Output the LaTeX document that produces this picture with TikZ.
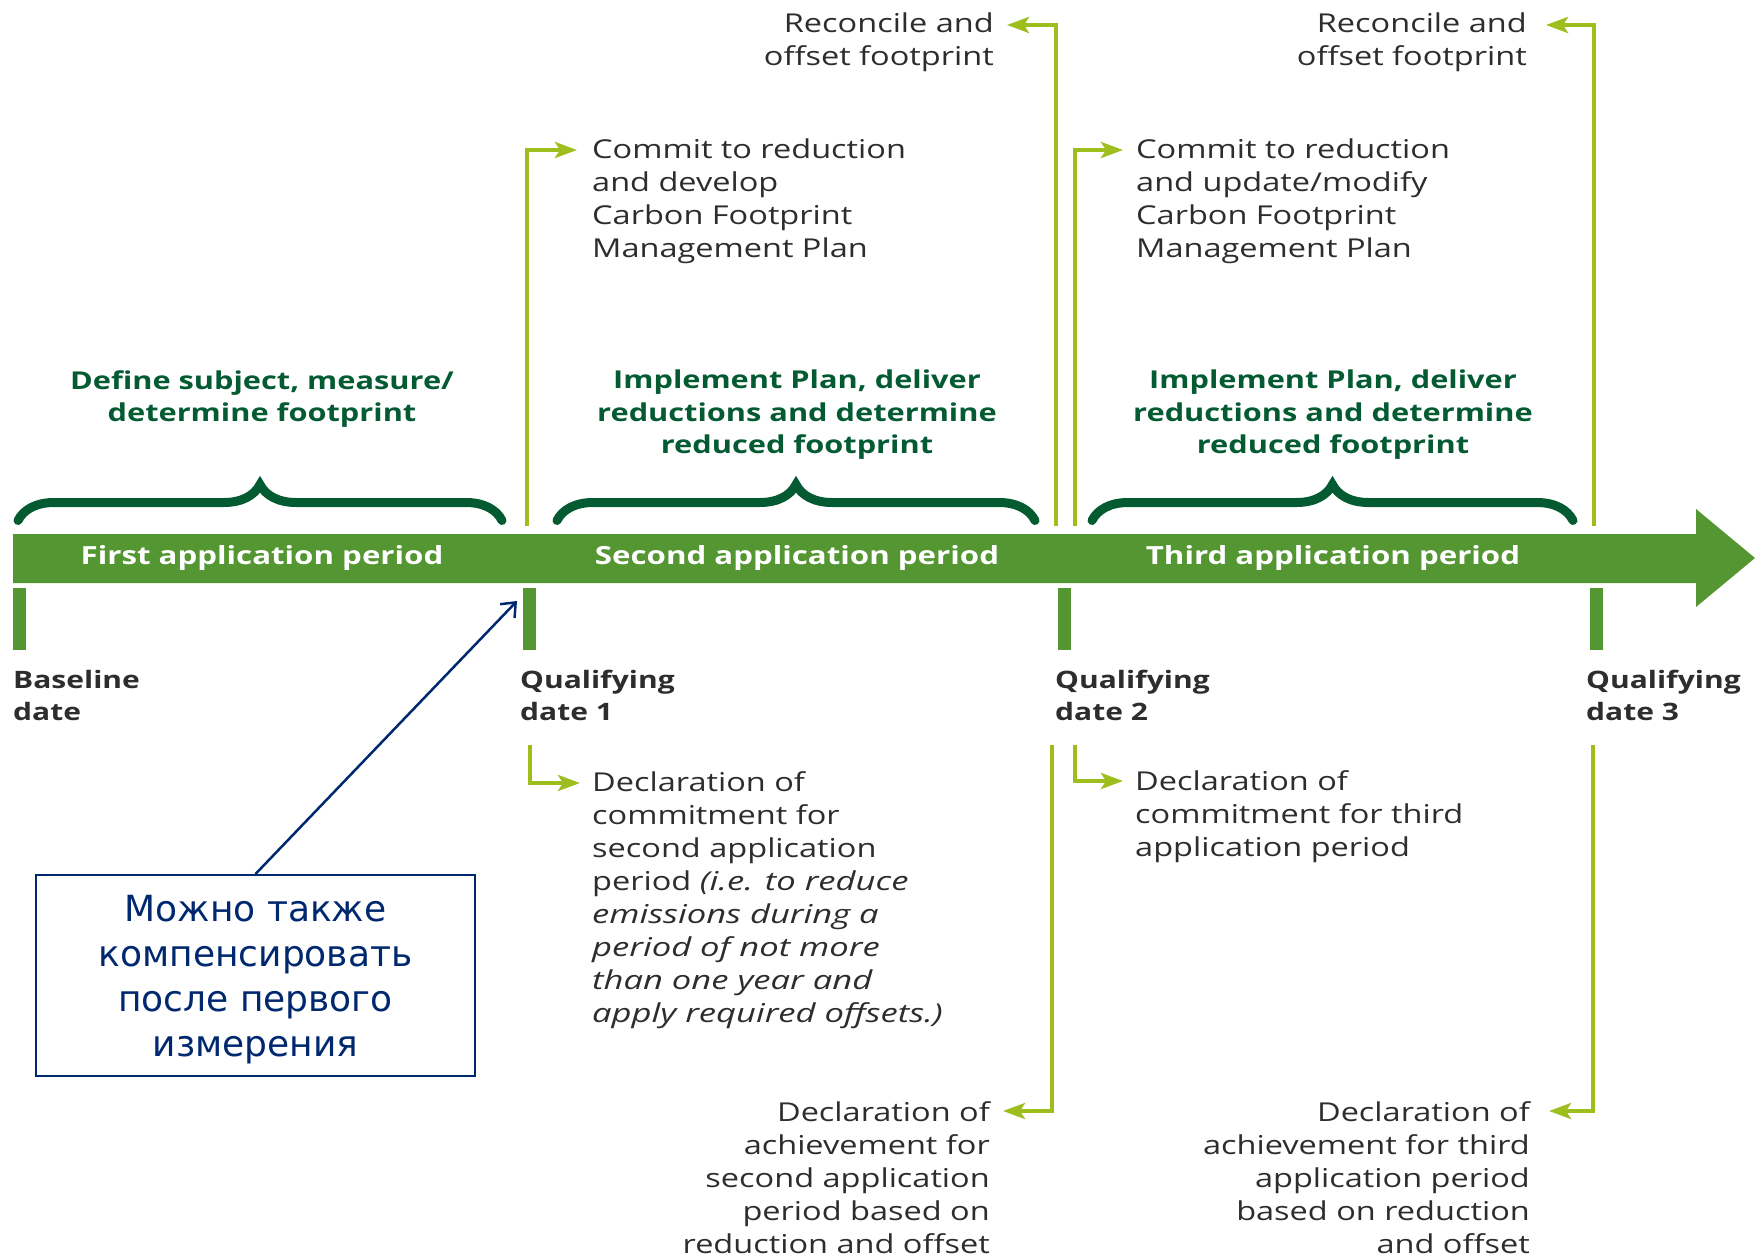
\documentclass[tikz,border=0pt]{standalone}
\usepackage{fontspec}
\setmainfont{Open Sans}[FakeStretch=1.25, ItalicFeatures={FakeStretch=1.33}]
\newfontfamily\rufont{DejaVu Sans}
\usetikzlibrary{positioning,arrows.meta,decorations.pathreplacing}
\definecolor{bargreen}{RGB}{84,150,50}
\definecolor{darkgreen}{RGB}{4,91,50}
\definecolor{leadgreen}{RGB}{158,190,30}
\definecolor{textgray}{RGB}{45,45,45}
\definecolor{navy}{RGB}{0,40,110}

\begin{document}
\begin{tikzpicture}[x=1pt, y=-1pt,
        note/.style={inner sep=0pt, text=textgray, font=\fontsize{26}{33}\selectfont},
        phase/.style={inner sep=0pt, anchor=north, align=center, text=darkgreen, font=\fontsize{24.6}{32.5}\selectfont\bfseries},
        period/.style={inner sep=0pt, text=white, font=\fontsize{25}{30}\selectfont\bfseries},
        datelabel/.style={inner sep=0pt, anchor=north west, align=left, text=textgray, font=\fontsize{24}{32}\selectfont\bfseries},
        tick/.style={bargreen, line width=13pt},
        curly/.style={darkgreen, line width=9pt, line cap=round, decorate, decoration={brace, amplitude=36pt}},
        lead/.style={leadgreen, line width=4pt, -{Stealth[length=22pt, width=16pt, inset=5pt]}}]
    \useasboundingbox (0,0) rectangle (1756,1258);

    % texts above the time line
    \node[note, anchor=north east, align=right] (rec2) at (994,13) {Reconcile and\\offset footprint};
    \node[note, anchor=north east, align=right] (rec3) at (1527,13) {Reconcile and\\offset footprint};
    \node[note, anchor=north west, align=left] (commit2) at (592,139) {Commit to reduction\\and develop\\Carbon Footprint\\Management Plan};
    \node[note, anchor=north west, align=left] (commit3) at (1136,139) {Commit to reduction\\and update/modify\\Carbon Footprint\\Management Plan};

    \node[phase] (phase1) at (262,370) {Define subject, measure/\\determine footprint};
    \node[phase] (phase2) at (797,370) {Implement Plan, deliver\\reductions and determine\\reduced footprint};
    \node[phase] (phase3) at (1333,370) {Implement Plan, deliver\\reductions and determine\\reduced footprint};

    \draw[curly] (18,520.5) -- (502,520.5);
    \draw[curly] (557,520.5) -- (1035,520.5);
    \draw[curly] (1092,520.5) -- (1573,520.5);

    % time line
    \fill[bargreen] (13,534) -- (1696,534) -- (1696,509) -- (1755,558) -- (1696,607) -- (1696,583) -- (13,583) -- cycle;
    \node[period] (period1) at (262,558) {First application period};
    \node[period] (period2) at (797,558) {Second application period};
    \node[period] (period3) at (1333,558) {Third application period};

    \coordinate (d0) at (19.5,588);
    \coordinate (d1) at (529,588);
    \coordinate (d2) at (1064,588);
    \coordinate (d3) at (1596,588);
    \foreach \d in {d0,d1,d2,d3}
        \draw[tick] (\d) -- ++(0,62);

    \node[datelabel] (base) at (13,670) {Baseline\\date};
    \node[datelabel] (qual1) at (520,670) {Qualifying\\date 1};
    \node[datelabel] (qual2) at (1055,670) {Qualifying\\date 2};
    \node[datelabel] (qual3) at (1586,670) {Qualifying\\date 3};

    % texts below the time line
    \node[note, anchor=north west, align=left] (decl2) at (592,771) {Declaration of\\commitment for\\second application\\period \textit{(i.e. to reduce}\\\textit{emissions during a}\\\textit{period of not more}\\\textit{than one year and}\\\textit{apply required offsets.)}};
    \node[note, anchor=north west, align=left] (decl3) at (1135,770) {Declaration of\\commitment for third\\application period};
    \node[note, anchor=north east, align=right] (achieve2) at (990,1101) {Declaration of\\achievement for\\second application\\period based on\\reduction and offset};
    \node[note, anchor=north east, align=right] (achieve3) at (1530,1101) {Declaration of\\achievement for third\\application period\\based on reduction\\and offset};

    \node[draw=navy, line width=2pt, inner sep=0pt, minimum width=439pt, minimum height=201pt, text depth=0pt, align=center, text=navy, font=\rufont\fontsize{36}{45}\selectfont] (memo) at (255.5,975.5) {Можно также\\компенсировать\\после первого\\измерения};

    % connectors
    \coordinate (up2) at (527,526);
    \coordinate (uprec2) at (1056,526);
    \coordinate (up3) at (1075,526);
    \coordinate (uprec3) at (1594,526);
    \coordinate (down2) at (530,745);
    \coordinate (downach2) at (1052,745);
    \coordinate (down3) at (1075,745);
    \coordinate (downach3) at (1593,745);
    \coordinate (hint) at (517,601);

    \draw[lead] (up2) |- ([xshift=-15pt, yshift=-11pt]commit2.north west);
    \draw[lead] (up3) |- ([xshift=-13pt, yshift=-11pt]commit3.north west);
    \draw[lead] (uprec2) |- ([xshift=13pt, yshift=-12pt]rec2.north east);
    \draw[lead] (uprec3) |- ([xshift=19pt, yshift=-12pt]rec3.north east);
    \draw[lead] (down2) |- ([xshift=-12pt, yshift=-12pt]decl2.north west);
    \draw[lead] (down3) |- ([xshift=-12pt, yshift=-11pt]decl3.north west);
    \draw[lead] (downach2) |- ([xshift=13pt, yshift=-10pt]achieve2.north east);
    \draw[lead] (downach3) |- ([xshift=19pt, yshift=-10pt]achieve3.north east);

    \draw[navy, line width=2.5pt, -{Straight Barb[length=12pt, width=20pt]}] (memo.north) -- (hint);
\end{tikzpicture}
\end{document}
